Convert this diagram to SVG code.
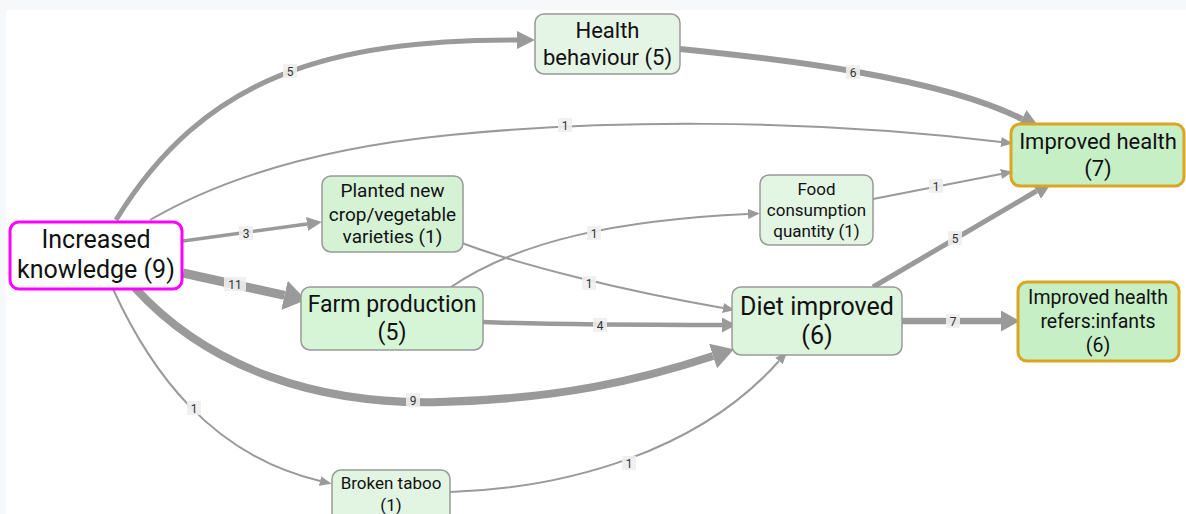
<svg xmlns="http://www.w3.org/2000/svg" width="1186" height="514" viewBox="0 0 1186 514">
<style>
.bg{fill:#f6f8fa}
.canvas{fill:#ffffff}
.node rect{stroke:#999999;stroke-width:1.5}
.node text{font-family:Roboto,"Liberation Sans",sans-serif;fill:#111111;text-anchor:middle}
.edge{fill:none;stroke:#9a9a9a}
.lbl rect{fill:#eeeeee;fill-opacity:0.9}
.lbl text{font-family:Roboto,"Liberation Sans",sans-serif;font-size:12px;fill:#333333;text-anchor:middle}
.ah{fill:#9a9a9a}
</style>
<defs>
<marker id="m1" markerUnits="userSpaceOnUse" viewBox="0 -5 12 10" refX="0" refY="0" markerWidth="12" markerHeight="10" orient="auto"><path class="ah" d="M0,-5 L12,0 L0,5 z"/></marker>
<marker id="m3" markerUnits="userSpaceOnUse" viewBox="0 -7 15 14" refX="0" refY="0" markerWidth="15" markerHeight="14" orient="auto"><path class="ah" d="M0,-7 L15,0 L0,7 z"/></marker>
<marker id="m4" markerUnits="userSpaceOnUse" viewBox="0 -7.5 14 15" refX="0" refY="0" markerWidth="14" markerHeight="15" orient="auto"><path class="ah" d="M0,-7.5 L14,0 L0,7.5 z"/></marker>
<marker id="m5" markerUnits="userSpaceOnUse" viewBox="0 -9 18 18" refX="0" refY="0" markerWidth="18" markerHeight="18" orient="auto"><path class="ah" d="M0,-9 L18,0 L0,9 z"/></marker>
<marker id="m6" markerUnits="userSpaceOnUse" viewBox="0 -10 20 20" refX="0" refY="0" markerWidth="20" markerHeight="20" orient="auto"><path class="ah" d="M0,-10 L20,0 L0,10 z"/></marker>
<marker id="m7" markerUnits="userSpaceOnUse" viewBox="0 -10.5 19 21" refX="0" refY="0" markerWidth="19" markerHeight="21" orient="auto"><path class="ah" d="M0,-10.5 L19,0 L0,10.5 z"/></marker>
<marker id="m9" markerUnits="userSpaceOnUse" viewBox="0 -13 22 26" refX="0" refY="0" markerWidth="22" markerHeight="26" orient="auto"><path class="ah" d="M0,-13 L22,0 L0,13 z"/></marker>
<marker id="m11" markerUnits="userSpaceOnUse" viewBox="0 -15 22 30" refX="0" refY="0" markerWidth="22" markerHeight="30" orient="auto"><path class="ah" d="M0,-15 L22,0 L0,15 z"/></marker>
</defs>
<rect class="bg" x="0" y="0" width="1186" height="514"/>
<rect class="canvas" x="6" y="10" width="1180" height="504"/>

<g id="connectors">
  <path class="edge" stroke-width="5" d="M116,220 C205,75 330,40 517,40" marker-end="url(#m5)"/>
  <path class="edge" stroke-width="6" d="M680,49 C790,60 940,78 1022,119" marker-end="url(#m6)"/>
  <path class="edge" stroke-width="2" d="M150,220 C210,185 300,150 450,135 C600,120 800,118 1001,142" marker-end="url(#m1)"/>
  <path class="edge" stroke-width="3.5" d="M183,241 L307,224" marker-end="url(#m3)"/>
  <path class="edge" stroke-width="9" d="M183,273 L284.5,295.3" marker-end="url(#m11)"/>
  <path class="edge" stroke-width="8" d="M135,288 C210,370 320,405 440,402 C560,399 640,380 713,356" marker-end="url(#m9)"/>
  <path class="edge" stroke-width="2" d="M113,289 C150,370 210,455 320,481" marker-end="url(#m1)"/>
  <path class="edge" stroke-width="2" d="M462,243 C520,265 620,290 723,308" marker-end="url(#m1)"/>
  <path class="edge" stroke-width="2" d="M451,287 C520,240 620,220 748,214" marker-end="url(#m1)"/>
  <path class="edge" stroke-width="4.5" d="M483,322 C560,325 650,325 722,325" marker-end="url(#m4)"/>
  <path class="edge" stroke-width="2" d="M873,199 L1001,174" marker-end="url(#m1)"/>
  <path class="edge" stroke-width="5" d="M873,287 L1036.5,191" marker-end="url(#m5)"/>
  <path class="edge" stroke-width="6.5" d="M902,321 L1001,321" marker-end="url(#m7)"/>
  <path class="edge" stroke-width="2" d="M450,492 C570,488 700,450 779,361" marker-end="url(#m1)"/>

  <g class="lbl"><rect x="283" y="64" width="14" height="14"/><text x="290" y="75.5">5</text></g>
  <g class="lbl"><rect x="846" y="65" width="14" height="14"/><text x="853" y="76.5">6</text></g>
  <g class="lbl"><rect x="558" y="118" width="14" height="14"/><text x="565" y="129.5">1</text></g>
  <g class="lbl"><rect x="239" y="226" width="14" height="14"/><text x="246" y="237.5">3</text></g>
  <g class="lbl"><rect x="224" y="277" width="22" height="14"/><text x="235" y="288.5">11</text></g>
  <g class="lbl"><rect x="406" y="393" width="14" height="14"/><text x="413" y="404.5">9</text></g>
  <g class="lbl"><rect x="187" y="401" width="14" height="14"/><text x="194" y="412.5">1</text></g>
  <g class="lbl"><rect x="582" y="276" width="14" height="14"/><text x="589" y="287.5">1</text></g>
  <g class="lbl"><rect x="587" y="226" width="14" height="14"/><text x="594" y="237.5">1</text></g>
  <g class="lbl"><rect x="593" y="318" width="14" height="14"/><text x="600" y="329.5">4</text></g>
  <g class="lbl"><rect x="929" y="179" width="14" height="14"/><text x="936" y="190.5">1</text></g>
  <g class="lbl"><rect x="948" y="231" width="14" height="14"/><text x="955" y="242.5">5</text></g>
  <g class="lbl"><rect x="946" y="314" width="14" height="14"/><text x="953" y="325.5">7</text></g>
  <g class="lbl"><rect x="622" y="456" width="14" height="14"/><text x="629" y="467.5">1</text></g>
</g>

<g id="node-increased-knowledge" class="node">
  <rect x="10" y="222" width="172" height="67" rx="9" fill="#ffffff" style="stroke:#ff00ff;stroke-width:3"/>
  <text font-size="25" x="96" y="248">Increased</text>
  <text font-size="25" x="96" y="278">knowledge (9)</text>
</g>
<g id="node-health-behaviour" class="node">
  <rect x="535" y="14" width="145" height="60" rx="9" fill="#e5f5e5"/>
  <text font-size="22" x="607.5" y="38">Health</text>
  <text font-size="22" x="607.5" y="65">behaviour (5)</text>
</g>
<g id="node-improved-health" class="node">
  <rect x="1011" y="124" width="173" height="62" rx="9" fill="#c6efc6" style="stroke:#daa520;stroke-width:3"/>
  <text font-size="22" x="1098" y="149">Improved health</text>
  <text font-size="22" x="1098" y="176">(7)</text>
</g>
<g id="node-improved-health-infants" class="node">
  <rect x="1018" y="282" width="161" height="79" rx="9" fill="#c6efc6" style="stroke:#daa520;stroke-width:3"/>
  <text font-size="19.5" x="1098" y="304">Improved health</text>
  <text font-size="19.5" x="1098" y="328">refers:infants</text>
  <text font-size="19.5" x="1098" y="352">(6)</text>
</g>
<g id="node-planted" class="node">
  <rect x="322" y="176" width="141" height="76" rx="9" fill="#d5f2d5"/>
  <text font-size="19" x="392.5" y="197">Planted new</text>
  <text font-size="19" x="392.5" y="221">crop/vegetable</text>
  <text font-size="19" x="392.5" y="243">varieties (1)</text>
</g>
<g id="node-farm-production" class="node">
  <rect x="301" y="287" width="182" height="63" rx="9" fill="#d6f4d6"/>
  <text font-size="23" x="392" y="312">Farm production</text>
  <text font-size="23" x="392" y="340">(5)</text>
</g>
<g id="node-food-consumption" class="node">
  <rect x="760" y="175" width="113" height="70" rx="9" fill="#e3f5e3"/>
  <text font-size="17" x="816.5" y="195">Food</text>
  <text font-size="17" x="816.5" y="216">consumption</text>
  <text font-size="17" x="816.5" y="237">quantity (1)</text>
</g>
<g id="node-diet-improved" class="node">
  <rect x="732" y="287" width="170" height="68" rx="9" fill="#ddf4dd"/>
  <text font-size="25" x="817" y="315">Diet improved</text>
  <text font-size="25" x="817" y="344">(6)</text>
</g>
<g id="node-broken-taboo" class="node">
  <rect x="332" y="470" width="118" height="56" rx="9" fill="#e2f5e2"/>
  <text font-size="17" x="391" y="489">Broken taboo</text>
  <text font-size="17" x="391" y="511">(1)</text>
</g>
</svg>
